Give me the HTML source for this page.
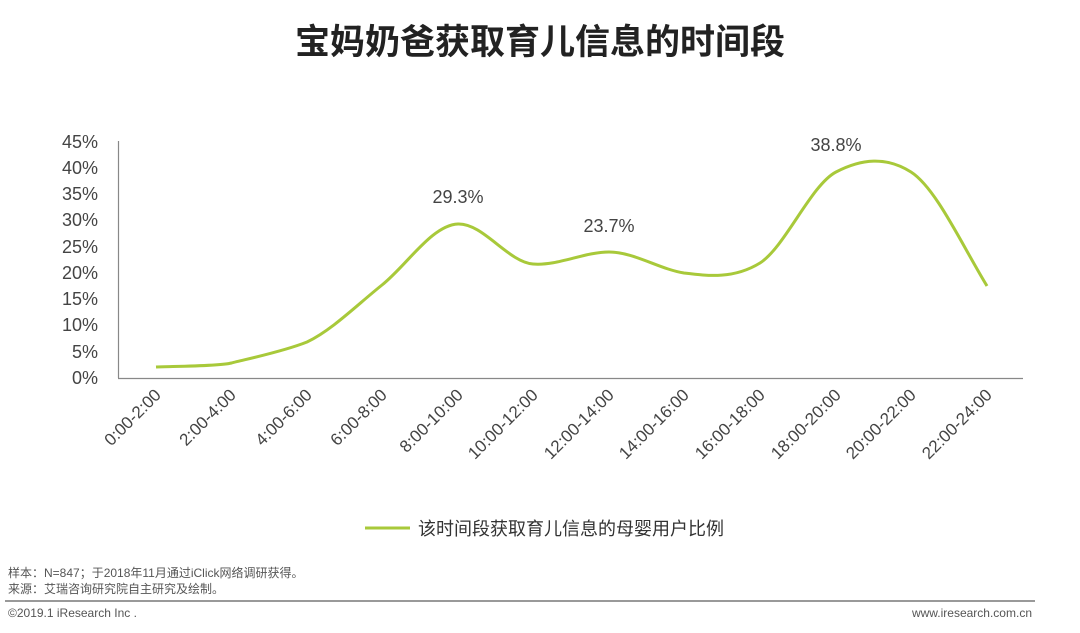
<!DOCTYPE html>
<html><head><meta charset="utf-8"><style>
body{margin:0;width:1080px;height:628px;background:#fff;overflow:hidden;font-family:"Liberation Sans","Noto Sans CJK SC",sans-serif;}
</style></head><body>
<svg width="1080" height="628" xmlns="http://www.w3.org/2000/svg" font-family="'Liberation Sans','Noto Sans CJK SC',sans-serif">
<text x="540" y="54" text-anchor="middle" font-size="35" font-weight="bold" fill="#222">宝妈奶爸获取育儿信息的时间段</text>
<g font-size="18" fill="#444" text-anchor="end">
<text x="98" y="384">0%</text><text x="98" y="358">5%</text><text x="98" y="331">10%</text><text x="98" y="305">15%</text><text x="98" y="279">20%</text><text x="98" y="253">25%</text><text x="98" y="226">30%</text><text x="98" y="200">35%</text><text x="98" y="174">40%</text><text x="98" y="148">45%</text>
</g>
<line x1="118.5" y1="141" x2="118.5" y2="378" stroke="#888" stroke-width="1.2"/>
<line x1="118" y1="378.5" x2="1023" y2="378.5" stroke="#888" stroke-width="1.2"/>
<path d="M156,367 C168.6,366.3 218.7,366.4 231.5,363 C244,359.6 282,352 307,342 C332,330 357,305 382,285 C407,265 432,225 458,224 C483,223 508,262 533,264 C558,266 584,252 609,252 C634,252 659,269 684,273 C709,276 734,279 760,263 C785,247 811,185 836,172 C861,159 886,156 911,172 C936,188 962,245 987,286" fill="none" stroke="#a8c93a" stroke-width="3"/>
<g font-size="18" fill="#444" text-anchor="middle">
<text x="458" y="203">29.3%</text><text x="609" y="232">23.7%</text><text x="836" y="151">38.8%</text>
</g>
<g font-size="17" fill="#444" text-anchor="end">
<text transform="translate(162,396) rotate(-45)">0:00-2:00</text>
<text transform="translate(237,396) rotate(-45)">2:00-4:00</text>
<text transform="translate(313,396) rotate(-45)">4:00-6:00</text>
<text transform="translate(388,396) rotate(-45)">6:00-8:00</text>
<text transform="translate(464,396) rotate(-45)">8:00-10:00</text>
<text transform="translate(539,396) rotate(-45)">10:00-12:00</text>
<text transform="translate(615,396) rotate(-45)">12:00-14:00</text>
<text transform="translate(690,396) rotate(-45)">14:00-16:00</text>
<text transform="translate(766,396) rotate(-45)">16:00-18:00</text>
<text transform="translate(842,396) rotate(-45)">18:00-20:00</text>
<text transform="translate(917,396) rotate(-45)">20:00-22:00</text>
<text transform="translate(993,396) rotate(-45)">22:00-24:00</text>
</g>
<line x1="365" y1="528" x2="410" y2="528" stroke="#a8c93a" stroke-width="3"/>
<text x="418" y="535" font-size="18" fill="#333">该时间段获取育儿信息的母婴用户比例</text>
<g font-size="12" fill="#555">
<text x="8" y="577">样本：N=847；于2018年11月通过iClick网络调研获得。</text>
<text x="8" y="593">来源：艾瑞咨询研究院自主研究及绘制。</text>
<text x="8" y="617">©2019.1 iResearch Inc .</text>
<text x="1032" y="617" text-anchor="end">www.iresearch.com.cn</text>
</g>
<line x1="5" y1="601" x2="1035" y2="601" stroke="#999" stroke-width="2"/>
</svg>
</body></html>
